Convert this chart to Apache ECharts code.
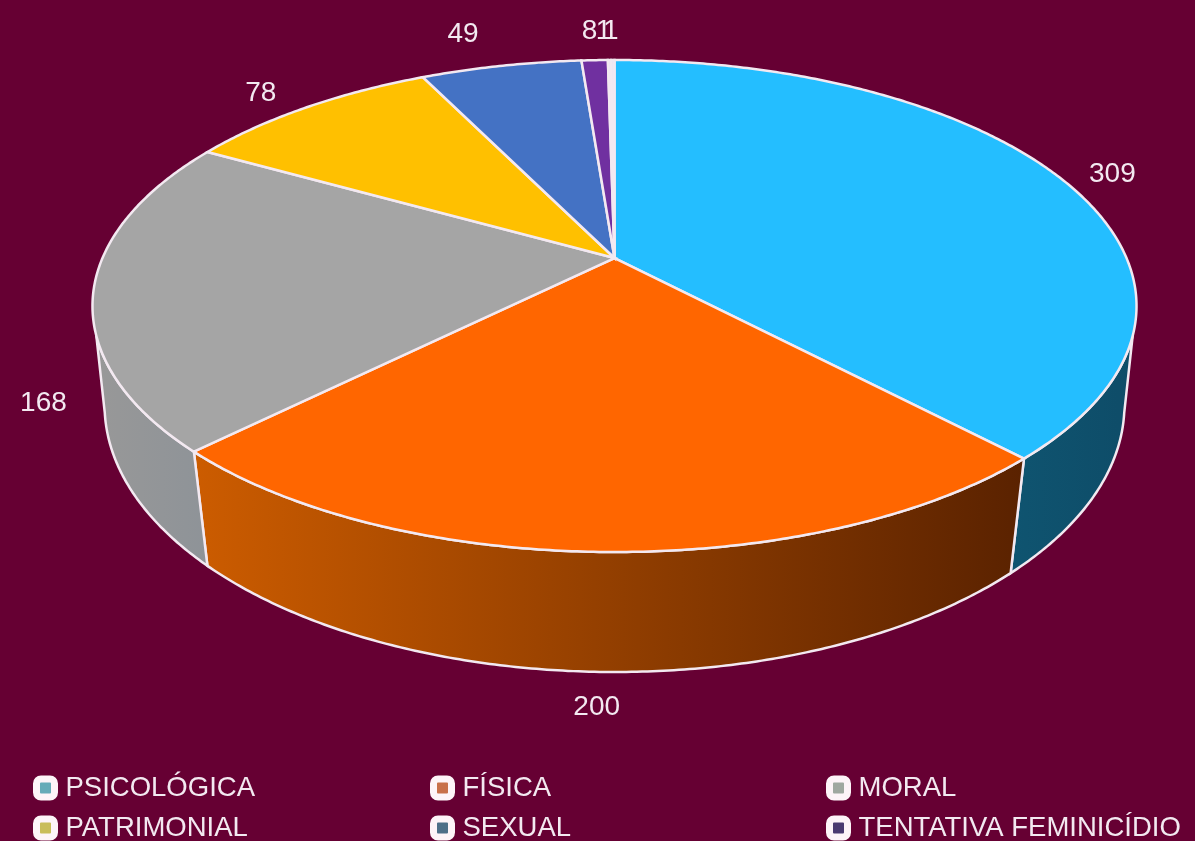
<!DOCTYPE html>
<html>
<head>
<meta charset="utf-8">
<title>Tipos de violência</title>
<script src="https://cdn.jsdelivr.net/npm/echarts@6/dist/echarts.min.js"></script>
<style>
  html, body { margin: 0; padding: 0; background: #660033; }
  #chart { width: 1195px; height: 841px; }
</style>
</head>
<body>
<div id="chart"></div>
<script>
// o segundo "1" nao aparece na legenda cortada
const categories = ['PSICOLÓGICA', 'FÍSICA', 'MORAL', 'PATRIMONIAL', 'SEXUAL', 'TENTATIVA FEMINICÍDIO'];
const values = [309, 200, 168, 78, 49, 8, 1, 1];
const names = categories.concat(['OUTROS', 'OUTROS 2']);

const topColors = ['#24beff', '#ff6600', '#a5a5a5', '#ffc000', '#4472c4', '#7030a0', '#ece4f4', '#ece4f4'];
const sideColors = [
  ['#0f5470', '#0e4c68'],
  ['#cc5c00', '#5a2200'],
  ['#989898', '#8e9398'],
];
const legendColors = ['#66abb8', '#c8704a', '#9fa8a0', '#c9bd5a', '#4d6f88', '#4a3a70'];
// deslocamento do rotulo em relacao ao meio do arco
const labelOffsets = [[54, -2], [-8, 155], [-50, 113], [-46, -14], [-38, -32], [-5, -29], [-6, -29], [-2, -29]];

const cx = 614.5;
// elipses de cima e de baixo, com perspectiva
const topDisc = { cy: 306, a: -0.195, A: 512, B: 246 };
const baseDisc = { cy: 405, a: -0.18, A: 501.6, B: 267 };
// trecho visivel da lateral, em graus: o contorno liga o topo a base
const topRange = [108, 252];
const baseRange = [102, 258];
const lineColor = '#f3e9f1';

const total = values.reduce((s, v) => s + v, 0);

function project(disc, deg) {
  const t = deg * Math.PI / 180;
  const u = Math.sin(t);
  const v = -Math.cos(t);
  const w = 1 + disc.a * v;
  return [cx + disc.A * u / w, disc.cy + disc.B * (v + disc.a) / w];
}

function arc(disc, from, to) {
  const n = Math.ceil(Math.abs(to - from) * 2) + 1;
  const pts = [];
  for (let i = 0; i <= n; i++) {
    pts.push(project(disc, from + (to - from) * i / n));
  }
  return pts;
}

function renderSlice(index) {
  const before = values.slice(0, index).reduce((s, v) => s + v, 0);
  const start = before / total * 360;
  const end = (before + values[index]) / total * 360;
  const mid = (start + end) / 2;
  const hub = [cx, topDisc.cy + topDisc.B * topDisc.a];
  const children = [];

  if (sideColors[index]) {
    const upper = arc(topDisc, Math.max(start, topRange[0]), Math.min(end, topRange[1]));
    const lower = arc(baseDisc, Math.max(start, baseRange[0]), Math.min(end, baseRange[1]));
    const xs = upper.concat(lower).map((p) => p[0]);
    children.push({
      type: 'polygon',
      z2: 1,
      shape: { points: upper.concat(lower.reverse()) },
      style: {
        fill: new echarts.graphic.LinearGradient(Math.min(...xs), 0, Math.max(...xs), 0, [
          { offset: 0, color: sideColors[index][0] },
          { offset: 1, color: sideColors[index][1] },
        ], true),
        stroke: lineColor,
        lineWidth: 2.5,
      },
    });
  }

  children.push({
    type: 'polygon',
    z2: 2,
    shape: { points: [hub].concat(arc(topDisc, start, end)) },
    style: { fill: topColors[index], stroke: lineColor, lineWidth: 2.5 },
  });

  const rim = project(topDisc, mid);
  children.push({
    type: 'text',
    z2: 3,
    x: rim[0] + labelOffsets[index][0],
    y: rim[1] + labelOffsets[index][1],
    style: {
      text: String(values[index]),
      fill: lineColor,
      font: '28px "Liberation Sans", Arial, sans-serif',
      align: 'center',
      verticalAlign: 'middle',
    },
  });
  return { type: 'group', children };
}

const series = values.map((v, i) => ({
  type: 'custom',
  name: names[i],
  coordinateSystem: 'none',
  silent: true,
  itemStyle: { color: topColors[i] },
  renderItem: () => renderSlice(i),
  data: [v],
}));

function legendColumn(left, idx) {
  return {
    left,
    top: 774,
    height: 200,
    orient: 'vertical',
    icon: 'roundRect',
    itemWidth: 18,
    itemHeight: 18,
    itemGap: 12,
    selectedMode: false,
    padding: 0,
    textStyle: {
      color: lineColor,
      fontSize: 27.5,
      fontFamily: '"Liberation Sans", Arial, sans-serif',
      padding: [0, 0, 0, 6],
    },
    data: idx.map((i) => ({
      name: categories[i],
      itemStyle: { color: legendColors[i], borderColor: '#fdf4f8', borderWidth: 7 },
    })),
  };
}

const chart = echarts.init(document.getElementById('chart'));
chart.setOption({
  backgroundColor: '#660033',
  animation: false,
  legend: [legendColumn(33, [0, 3]), legendColumn(430, [1, 4]), legendColumn(826, [2, 5])],
  series,
});
</script>
</body>
</html>
